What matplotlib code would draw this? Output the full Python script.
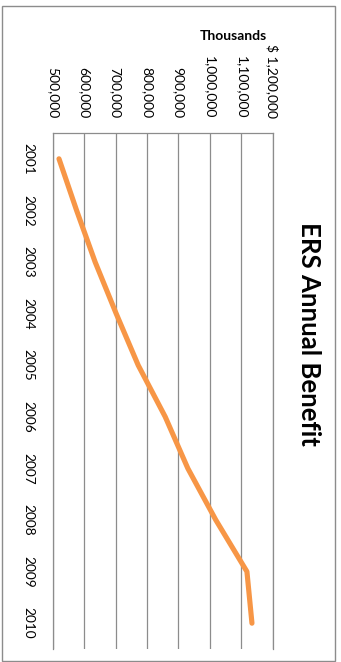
# ERS annual benefit, drawn turned on its side (years running down)
import numpy as np
import matplotlib.pyplot as plt
from matplotlib.patches import Rectangle

# data (values in thousands of dollars)
years = ['2001', '2002', '2003', '2004', '2005', '2006', '2007', '2008', '2009', '2010']
benefit = [520000, 576000, 635000, 702000, 772000, 858000, 930000, 1019000, 1118000, 1134000]
ticks = [500000, 600000, 700000, 800000, 900000, 1000000, 1100000, 1200000]
tick_labels = ['500,000', '600,000', '700,000', '800,000', '900,000',
               '1,000,000', '1,100,000', '$ 1,200,000']

plt.rcParams['font.family'] = ['Lato', 'DejaVu Sans']
grey = '#8c8c8c'

fig = plt.figure(figsize=(3.41, 6.62), dpi=100)
ax = fig.add_axes([52.7/341, 1 - 649/662, 220/341, 516/662])

pos = np.arange(len(years))
ax.plot(benefit, pos, color='#F79646', linewidth=3.7, solid_capstyle='round',
        solid_joinstyle='round', zorder=3)

ax.set_xlim(500000, 1200000)
ax.set_ylim(len(years) - 0.5, -0.5)

ax.xaxis.tick_top()
ax.set_xticks(ticks)
ax.set_xticklabels(tick_labels, rotation=-90, fontsize=10, color='black')
ax.set_yticks(pos)
ax.set_yticklabels(years, rotation=-90, fontsize=9.8, va='center', color='black')
ax.tick_params(axis='x', length=0, pad=10.5)
ax.tick_params(axis='y', length=0, pad=13.5)

ax.grid(axis='x', color=grey, linewidth=0.9)
ax.set_axisbelow(True)
for side in ['left', 'top', 'right']:
    ax.spines[side].set_color(grey)
    ax.spines[side].set_linewidth(0.9)
ax.spines['bottom'].set_visible(False)

fig.text(309/341, 1 - 334/662, 'ERS Annual Benefit', rotation=-90, fontsize=18.5,
         fontweight='bold', ha='center', va='center')
fig.text(233/341, 1 - 36/662, 'Thousands', fontsize=10, fontweight='bold',
         ha='center', va='center')

# chart border
fig.patches.append(Rectangle((2/341, 1/662), 333/341, 655/662, transform=fig.transFigure,
                             fill=False, edgecolor=grey, linewidth=1.0))

fig.savefig('out.png', dpi=100)
